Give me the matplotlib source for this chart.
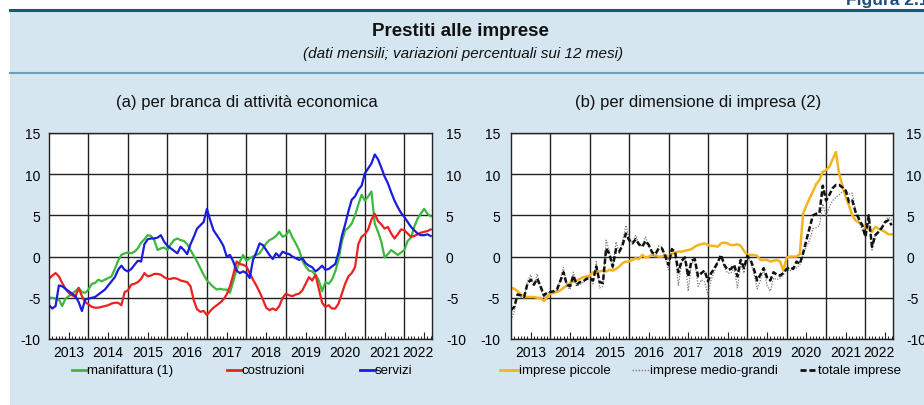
import numpy as np
import matplotlib
matplotlib.use("Agg")
import matplotlib.pyplot as plt
from matplotlib.lines import Line2D
from matplotlib.patches import Rectangle

plt.rcParams["font.family"] = ["Liberation Sans", "DejaVu Sans"]
plt.rcParams["axes.unicode_minus"] = False

# monthly 12-month growth rates, Jan 2013 - Sep 2022
manifattura = [
    -5.0, -5.0, -5.1, -5.2, -6.0, -5.1, -4.8, -4.5, -4.2, -3.8, -4.3, -4.4,
    -4.0, -3.3, -3.2, -2.8, -3.0, -2.8, -2.6, -2.4, -1.5, -0.5, 0.2, 0.4,
    0.5, 0.4, 0.6, 1.0, 1.7, 2.1, 2.6, 2.5, 2.0, 0.8, 1.0, 1.1,
    0.8, 1.5, 2.0, 2.2, 2.0, 1.9, 1.5, 0.8, 0.1, -0.6, -1.4, -2.2,
    -2.9, -3.3, -3.7, -4.0, -3.9, -4.0, -4.0, -4.4, -3.0, -1.6, -0.6, 0.2,
    -0.5, -0.2, 0.0, 0.2, 0.4, 1.0, 1.6, 2.0, 2.2, 2.5, 3.0, 2.4,
    2.6, 3.2, 2.3, 1.6, 0.8, -0.5, -1.2, -1.7, -1.8, -2.2, -2.9, -4.2,
    -3.1, -3.3, -2.8, -1.8, -0.4, 1.8, 3.2, 3.5, 4.0, 5.0, 6.3, 7.5,
    6.8, 7.3, 7.9, 4.0, 3.0, 1.8, -0.1, 0.3, 0.8, 0.5, 0.2, 0.5,
    0.8, 1.9, 2.3, 3.6, 4.6, 5.2, 5.8, 5.2, 4.9,
]
costruzioni = [
    -2.7, -2.3, -2.0, -2.4, -3.2, -3.9, -4.4, -4.7, -4.9, -3.8, -4.8, -5.5,
    -5.8, -6.1, -6.2, -6.2, -6.1, -6.0, -5.9, -5.7, -5.6, -5.6, -5.9, -4.3,
    -4.1, -3.4, -3.3, -3.1, -2.7, -2.0, -2.4, -2.3, -2.1, -2.1, -2.2, -2.5,
    -2.7, -2.7, -2.6, -2.7, -2.9, -3.0, -3.1, -3.6, -5.3, -6.4, -6.7, -6.6,
    -7.1, -6.6, -6.2, -5.9, -5.6, -5.2, -4.6, -3.6, -2.2, -0.6, -0.9, -1.0,
    -1.2, -2.0, -2.8, -3.5, -4.3, -5.2, -6.2, -6.5, -6.3, -6.5, -6.0, -5.0,
    -4.5, -4.7, -4.8, -4.6, -4.5, -4.1, -3.3, -2.5, -2.9, -2.2, -3.9, -5.6,
    -6.1, -5.9, -6.3, -6.3, -5.7, -4.5, -3.3, -2.4, -2.0, -1.3, 1.5, 2.4,
    2.7, 3.3, 4.5, 5.2, 4.3, 3.9, 3.4, 3.6, 2.8, 2.2, 2.7, 3.3,
    3.2, 2.8, 2.4, 2.5, 2.7, 2.9, 3.0, 3.1, 3.3,
]
servizi = [
    -5.9, -6.3, -6.0, -3.5, -3.6, -3.9, -4.2, -4.5, -4.8, -5.5, -6.6, -5.2,
    -5.1, -5.0, -4.9, -4.6, -4.3, -4.0, -3.5, -3.0, -2.5, -1.6, -1.1, -1.6,
    -1.8, -1.5, -1.0, -0.5, -0.6, 1.5, 2.1, 2.2, 2.2, 2.3, 2.6, 1.8,
    1.3, 1.0, 0.7, 0.4, 1.2, 0.8, 0.3, 1.5, 2.4, 3.4, 3.8, 4.2,
    5.8, 4.4, 3.2, 2.6, 2.0, 1.3, 0.0, 0.2, -0.6, -1.7, -2.0, -1.8,
    -2.0, -2.6, -0.4, 0.5, 1.6, 1.4, 0.8, 0.2, -0.3, 0.4, 0.0, 0.6,
    0.4, 0.3, 0.0, -0.2, -0.4, -0.2, -0.8, -1.1, -1.3, -1.8, -1.5, -1.1,
    -1.6, -1.5, -1.2, -0.9, 0.5, 2.5, 3.9, 5.5, 6.9, 7.3, 8.1, 8.6,
    10.1, 10.7, 11.3, 12.4, 11.8, 10.8, 9.7, 8.9, 7.8, 6.8, 6.0, 5.3,
    4.8, 4.2, 3.6, 3.2, 2.8, 2.6, 2.6, 2.7, 2.5,
]
piccole = [
    -3.8, -3.9, -4.2, -4.6, -4.9, -4.9, -4.9, -4.9, -5.0, -5.0, -5.4, -4.9,
    -4.5, -4.4, -4.3, -4.1, -3.8, -3.5, -3.2, -3.0, -2.9, -2.7, -2.5, -2.4,
    -2.3, -1.9, -1.9, -1.8, -1.7, -1.8, -1.6, -1.7, -1.5, -1.2, -0.8, -0.6,
    -0.6, -0.4, -0.2, -0.3, 0.2, -0.1, 0.0, 0.2, 0.1, 0.0, 0.0, 0.2,
    0.0, 0.3, 0.5, 0.6, 0.6, 0.7, 0.8, 0.9, 1.2, 1.4, 1.5, 1.6,
    1.4, 1.3, 1.3, 1.2, 1.6, 1.7, 1.6, 1.4, 1.4, 1.5, 1.3, 0.7,
    0.2, 0.2, 0.2, 0.1, -0.4, -0.4, -0.4, -0.6, -0.5, -0.4, -0.6, -1.7,
    -0.1, 0.0, 0.0, 0.0, 0.3, 5.2, 6.2, 7.1, 7.9, 8.8, 9.3, 10.3,
    10.5, 10.9, 11.8, 12.7, 10.0, 8.6, 7.2, 6.2, 5.0, 4.4, 4.1, 3.9,
    3.6, 3.3, 3.0, 3.6, 3.4, 3.2, 3.0, 2.7, 2.7,
]
medio_grandi = [
    -7.7, -6.6, -4.6, -4.9, -5.1, -3.0, -2.2, -3.6, -2.1, -3.8, -5.0, -4.4,
    -4.3, -4.3, -4.1, -2.8, -1.3, -3.6, -4.0, -1.9, -3.6, -3.4, -3.1, -2.6,
    -2.5, -3.3, -0.6, -3.8, -3.6, 2.0, 0.6, -1.5, 1.8, 0.4, 1.9, 3.8,
    2.3, 1.7, 2.6, 1.4, 1.3, 2.4, 1.3, 0.4, -0.2, 1.3, 1.2, -0.2,
    -1.6, 1.0, 0.4, -3.5, -0.7, 0.0, -4.2, -0.8, -0.6, -3.6, -2.8, -3.1,
    -4.6, -2.8, -1.8, -0.6, 0.1, -1.3, -2.0, -2.0, -1.4, -3.8, -0.9, -2.0,
    0.0, -0.7, -2.0, -3.9, -2.9, -1.6, -3.5, -4.2, -2.6, -2.8, -2.6, -2.2,
    -1.5, -1.8, -1.2, -1.4, -1.0, 0.3, 1.2, 2.0, 3.4, 3.5, 3.8, 6.4,
    5.0, 6.0, 6.8, 7.2, 7.5, 7.9, 8.1, 7.6, 7.7, 5.6, 4.3, 3.2,
    3.6, 5.2, 0.8, 2.5, 3.1, 3.6, 4.3, 4.8, 4.4,
]
totale = [
    -6.5, -6.1, -4.6, -4.7, -4.9, -3.3, -2.8, -3.4, -2.7, -3.6, -4.7, -4.4,
    -4.3, -4.2, -4.0, -3.0, -1.9, -3.4, -3.6, -2.3, -3.4, -3.1, -3.0, -2.7,
    -2.6, -2.9, -1.2, -3.1, -3.2, 1.0, 0.3, -1.2, 0.9, 0.6, 1.4, 2.8,
    2.0, 1.6, 2.1, 1.5, 1.2, 1.9, 1.4, 0.5, 0.3, 1.0, 1.0, 0.1,
    -1.0, 0.9, 0.6, -1.9, -0.5, -0.1, -2.4, -0.5, -0.3, -2.4, -2.0, -1.7,
    -3.0, -2.0, -1.4, -0.7, 0.2, -1.0, -1.6, -1.5, -1.0, -2.4, -0.4, -1.4,
    0.1, -0.4, -1.5, -2.9, -2.2, -1.4, -2.5, -2.9, -1.9, -2.2, -2.3, -2.0,
    -1.5, -1.3, -1.5, -0.6, -0.9, 0.4, 2.0, 3.5, 5.0, 5.2, 5.3, 8.6,
    6.8, 7.5, 8.3, 8.7, 8.7, 8.4, 8.0, 6.6, 6.8, 5.4, 4.6, 3.8,
    2.4, 5.0, 1.2, 2.6, 3.0, 3.5, 4.2, 4.4, 3.8,
]

years = list(range(2013, 2023))
yticks = [-10, -5, 0, 5, 10, 15]

W, H = 924, 406
X0, X1 = 2013.0, 2022.7
months = 2013 + np.arange(len(manifattura)) / 12.0


def fx(px):
    return px / W


def fy(py):
    return 1 - py / H


def style_axes(ax, pad_l, pad_r):
    ax.set_xlim(X0, X1)
    ax.set_ylim(-10, 15)
    for s in ax.spines.values():
        s.set_color("#222222")
        s.set_linewidth(1.0)
    # year boundaries -> grid, year centres -> labels
    ax.set_xticks(years[1:])
    ax.set_xticklabels([])
    centres = [(max(y, X0) + min(y + 1, X1)) / 2 for y in years]
    ax.set_xticks(centres, minor=True)
    ax.set_xticklabels([str(y) for y in years], minor=True)
    ax.tick_params(axis="x", which="both", length=0, labelsize=10, pad=4.5)
    ax.set_yticks(yticks)
    ax.tick_params(axis="y", length=0, labelsize=10, pad=pad_l)
    ax.grid(True, which="major", color="#222222", linewidth=1.0)
    ax.set_axisbelow(True)
    # monthly tick marks along the bottom
    sec = ax.secondary_xaxis("bottom")
    sec.set_xticks([y + 0.5 for y in years])
    sec.set_xticks(2013 + np.arange(0, 118) / 12.0, minor=True)
    sec.tick_params(which="major", direction="in", length=5, width=0.8,
                    color="#222222", labelbottom=False)
    sec.tick_params(which="minor", direction="in", length=2.5, width=0.7,
                    color="#222222")
    sec.spines["bottom"].set_visible(False)
    right = ax.secondary_yaxis("right")
    right.set_yticks(yticks)
    right.tick_params(length=0, labelsize=10, pad=pad_r)
    right.spines["right"].set_visible(False)


def legend_entry(x0, x1, text, **style):
    y = fy(371)
    fig.add_artist(Line2D([fx(x0), fx(x1)], [y, y], transform=fig.transFigure,
                          **style))
    fig.text(fx(x1), y, text, ha="left", va="center", fontsize=9.5)


fig = plt.figure(figsize=(W / 100, H / 100), dpi=100, facecolor="white")

# background panel and header rules
fig.add_artist(Rectangle((fx(10), 0), 1 - fx(10), fy(10), transform=fig.transFigure,
                         facecolor="#d6e6f1", edgecolor="none", zorder=-10))
fig.add_artist(Line2D([fx(10), 1], [fy(10.5), fy(10.5)], transform=fig.transFigure,
                      color="#1d5572", linewidth=2.2, zorder=-5))
fig.add_artist(Line2D([fx(10), 1], [fy(74), fy(74)], transform=fig.transFigure,
                      color="#6d9fb8", linewidth=1.5, zorder=-5))

fig.text(fx(846), fy(5), "Figura 2.1", ha="left", va="baseline", fontsize=12.5,
         fontweight="bold", color="#1f4e79")
fig.text(fx(460), fy(36.5), "Prestiti alle imprese", ha="center", va="baseline",
         fontsize=13.5, fontweight="bold", color="#111111")
fig.text(fx(463), fy(58), "(dati mensili; variazioni percentuali sui 12 mesi)",
         ha="center", va="baseline", fontsize=11, style="italic", color="#111111")
fig.text(fx(247), fy(106.5), "(a) per branca di attività economica",
         ha="center", va="baseline", fontsize=12, color="#111111")
fig.text(fx(698), fy(106.5), "(b) per dimensione di impresa (2)",
         ha="center", va="baseline", fontsize=12, color="#111111")

ax1 = fig.add_axes([fx(49), fy(340), fx(432 - 49), (340 - 134) / H])
ax2 = fig.add_axes([fx(511), fy(340), fx(893 - 511), (340 - 134) / H])

# (a) by sector
green, red, blue = "#3cb93c", "#ee2020", "#1c1ce0"
ax1.plot(months, manifattura, color=green, linewidth=1.6)
ax1.plot(months, costruzioni, color=red, linewidth=1.6)
ax1.plot(months, servizi, color=blue, linewidth=1.6)
style_axes(ax1, 6, 10)

# (b) by firm size
yellow = "#f4b41c"
ax2.plot(months, piccole, color=yellow, linewidth=1.8)
ax2.plot(months, medio_grandi, color="#7a7a7a", linewidth=0.9,
         linestyle=(0, (1, 1.2)))
ax2.plot(months, totale, color="#111111", linewidth=1.8,
         linestyle=(0, (2.2, 1.0)))
style_axes(ax2, 8, 9.5)

legend_entry(72, 87, "manifattura (1)", color=green, linewidth=2)
legend_entry(227, 242, "costruzioni", color=red, linewidth=2)
legend_entry(360, 375, "servizi", color=blue, linewidth=2)
legend_entry(500, 519, "imprese piccole", color=yellow, linewidth=2)
legend_entry(632, 650, "imprese medio-grandi", color="#7a7a7a", linewidth=1,
             linestyle=(0, (1, 1.2)))
legend_entry(800, 818, "totale imprese", color="#111111", linewidth=2,
             linestyle=(0, (2.2, 1.0)))

fig.savefig("out.png", dpi=100, facecolor=fig.get_facecolor())
